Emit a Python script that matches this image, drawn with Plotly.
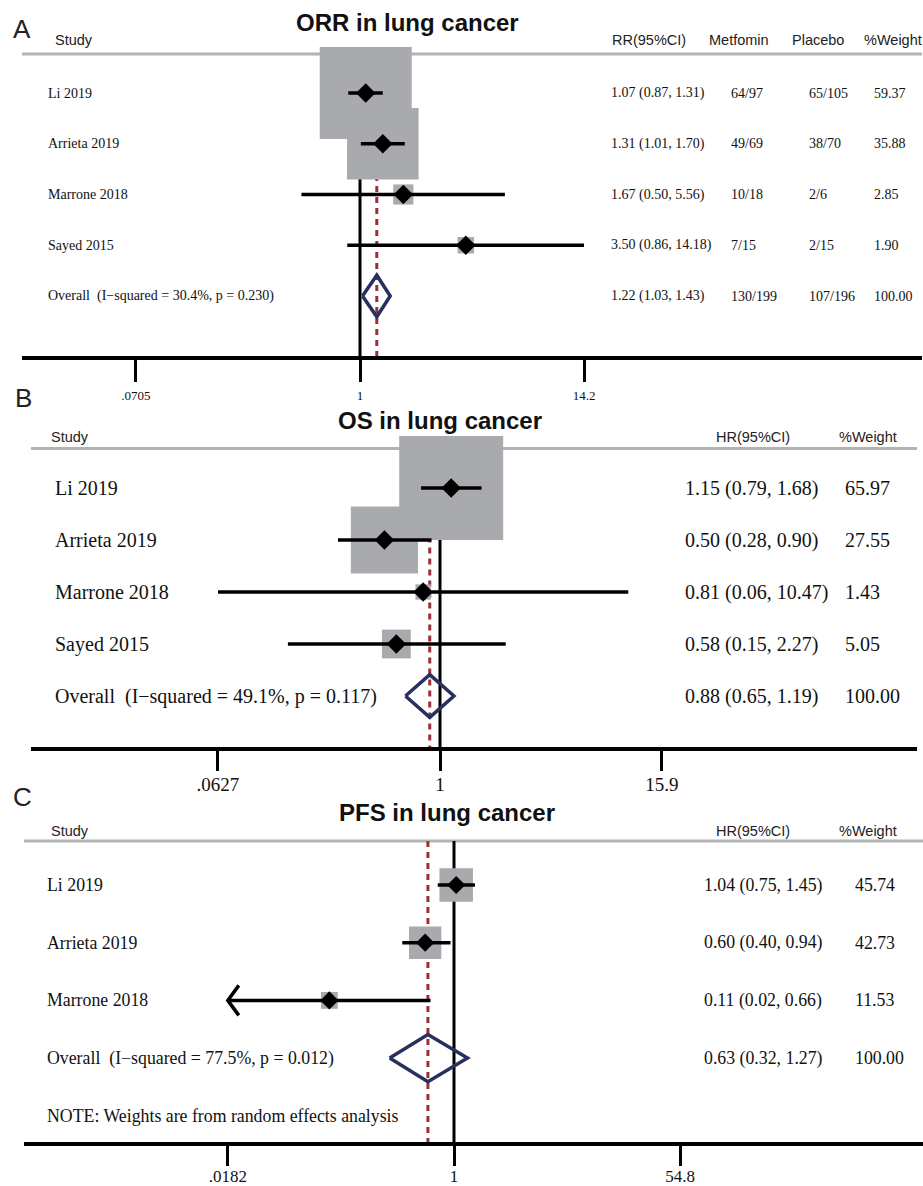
import math
import plotly.graph_objects as go

W, H = 923, 1186

# ---------------- data ----------------
orr_studies = ["Li 2019", "Arrieta 2019", "Marrone 2018", "Sayed 2015"]
orr_est = [1.07, 1.31, 1.67, 3.50]
orr_lo = [0.87, 1.01, 0.50, 0.86]
orr_hi = [1.31, 1.70, 5.56, 14.18]
orr_metformin = ["64/97", "49/69", "10/18", "7/15"]
orr_placebo = ["65/105", "38/70", "2/6", "2/15"]
orr_weight = [59.37, 35.88, 2.85, 1.90]
orr_overall = [1.22, 1.03, 1.43]
orr_overall_counts = ["130/199", "107/196"]
orr_i2, orr_p = 30.4, 0.230
orr_ticks = [0.0705, 1, 14.2]
orr_ticktext = [".0705", "1", "14.2"]

os_studies = ["Li 2019", "Arrieta 2019", "Marrone 2018", "Sayed 2015"]
os_est = [1.15, 0.50, 0.81, 0.58]
os_lo = [0.79, 0.28, 0.0627, 0.15]
os_hi = [1.68, 0.90, 10.47, 2.27]
os_weight = [65.97, 27.55, 1.43, 5.05]
os_overall = [0.88, 0.65, 1.19]
os_i2, os_p = 49.1, 0.117
os_ticks = [0.0627, 1, 15.9]
os_ticktext = [".0627", "1", "15.9"]

pfs_studies = ["Li 2019", "Arrieta 2019", "Marrone 2018"]
pfs_est = [1.04, 0.60, 0.11]
pfs_lo = [0.75, 0.40, 0.018]
pfs_hi = [1.45, 0.94, 0.66]
pfs_weight = [45.74, 42.73, 11.53]
pfs_overall = [0.63, 0.32, 1.27]
pfs_i2, pfs_p = 77.5, 0.012
pfs_ticks = [0.0182, 1, 54.8]
pfs_ticktext = [".0182", "1", "54.8"]

note_text = "NOTE: Weights are from random effects analysis"

# ---------------- styles ----------------
SERIF = "Liberation Serif, Times New Roman, serif"
SANS = "Liberation Sans, Arial, sans-serif"
BOX_GRAY = "#a9aaad"
HEAD_GRAY = "#b3b3b3"
NAVY = "#27305e"
DKRED = "#9a2f38"
TXT = "#111111"

def fx(x):
    return x / W

def fy(y):
    return 1 - y / H

panels = [
    dict(
        letter="A", letter_xy=(22, 29), title="ORR in lung cancer", title_xy=(407, 23),
        head_y=40, line_y=54, row0=93, dy=50.75, axis_y=356, top=36,
        x_left=22, x_right=922, x_one=360, ppd=194.5,
        tick_len=22, tick_font=13, standoff=3, row_font=14, box_k=11.94,
        name_x=46, col_x=[609, 729, 807, 872],
        headers=[("Study", 53), ("RR(95%CI)", 610), ("Metfomin", 707), ("Placebo", 790), ("%Weight", 862)],
        studies=orr_studies, est=orr_est, lo=orr_lo, hi=orr_hi, weight=orr_weight,
        extra=[orr_metformin, orr_placebo], overall=orr_overall,
        overall_extra=orr_overall_counts, i2=orr_i2, p=orr_p,
        ticks=orr_ticks, ticktext=orr_ticktext, note=None, dsize=15,
    ),
    dict(
        letter="B", letter_xy=(23, 398), title="OS in lung cancer", title_xy=(440, 420),
        head_y=437, line_y=448.5, row0=488, dy=52, axis_y=747, top=428,
        x_left=31, x_right=917, x_one=440, ppd=184.6,
        tick_len=20, tick_font=19, standoff=-3, row_font=20, box_k=12.8,
        name_x=53, col_x=[683, 843],
        headers=[("Study", 49), ("HR(95%CI)", 714), ("%Weight", 837)],
        studies=os_studies, est=os_est, lo=os_lo, hi=os_hi, weight=os_weight,
        extra=[], overall=os_overall, overall_extra=[], i2=os_i2, p=os_p,
        ticks=os_ticks, ticktext=os_ticktext, note=None, dsize=15,
    ),
    dict(
        letter="C", letter_xy=(22, 797), title="PFS in lung cancer", title_xy=(447, 812),
        head_y=831, line_y=841, row0=885, dy=57.7, axis_y=1142, top=822,
        x_left=24, x_right=923, x_one=454, ppd=130,
        tick_len=20, tick_font=17, standoff=-4, row_font=17.8, box_k=4.95,
        name_x=45, col_x=[702, 853],
        headers=[("Study", 49), ("HR(95%CI)", 714), ("%Weight", 837)],
        studies=pfs_studies, est=pfs_est, lo=pfs_lo, hi=pfs_hi, weight=pfs_weight,
        extra=[], overall=pfs_overall, overall_extra=[], i2=pfs_i2, p=pfs_p,
        ticks=pfs_ticks, ticktext=pfs_ticktext, note=note_text, dsize=14,
    ),
]

fig = go.Figure()
annotations = []
shapes = []
layout_axes = {}

for i, P in enumerate(panels):
    k = i + 1
    xa = "x" if k == 1 else f"x{k}"
    ya = "y" if k == 1 else f"y{k}"
    xname = "xaxis" if k == 1 else f"xaxis{k}"
    yname = "yaxis" if k == 1 else f"yaxis{k}"

    def row_of(py_, P=P):
        return (py_ - P["row0"]) / P["dy"]

    n = len(P["studies"])
    ov_row = n
    y_head = row_of(P["line_y"])
    y_bot = row_of(P["axis_y"])

    xr = [(P["x_left"] - P["x_one"]) / P["ppd"], (P["x_right"] - P["x_one"]) / P["ppd"]]

    layout_axes[xname] = dict(
        type="log", range=xr, domain=[fx(P["x_left"]), fx(P["x_right"])], anchor=ya,
        showline=True, linecolor="black", linewidth=3.5, ticks="outside",
        ticklen=P["tick_len"], tickwidth=3, tickcolor="black",
        tickvals=P["ticks"], ticktext=P["ticktext"],
        tickfont=dict(family=SERIF, size=P["tick_font"], color=TXT),
        ticklabelstandoff=P["standoff"], automargin=False,
        showgrid=False, zeroline=False, fixedrange=True,
    )
    layout_axes[yname] = dict(
        domain=[fy(P["axis_y"]), fy(P["top"])], range=[y_bot, row_of(P["top"])],
        anchor=xa, visible=False, showgrid=False, zeroline=False, fixedrange=True,
        automargin=False,
    )

    # null line and overall line
    fig.add_trace(go.Scatter(x=[1, 1], y=[y_head, y_bot], mode="lines",
                             line=dict(color="black", width=3), xaxis=xa, yaxis=ya,
                             hoverinfo="skip", showlegend=False))
    ov = P["overall"]
    fig.add_trace(go.Scatter(x=[ov[0], ov[0]], y=[y_head, y_bot], mode="lines",
                             line=dict(color=DKRED, width=3, dash="6px,5px"), xaxis=xa, yaxis=ya,
                             hoverinfo="skip", showlegend=False))

    rows = list(range(n))
    # weight boxes
    fig.add_trace(go.Scatter(
        x=P["est"], y=rows, mode="markers",
        marker=dict(symbol="square", color=BOX_GRAY, opacity=1,
                    size=[P["box_k"] * math.sqrt(w) for w in P["weight"]],
                    line=dict(width=0)),
        xaxis=xa, yaxis=ya, hoverinfo="skip", showlegend=False))

    # CI lines
    xmin = P["ticks"][0]
    xmax = P["ticks"][-1]
    cx, cy = [], []
    ax_, ay_ = [], []
    for r, lo, hi in zip(rows, P["lo"], P["hi"]):
        lo_c = max(lo, xmin)
        hi_c = min(hi, xmax)
        cx += [lo_c, hi_c, None]
        cy += [r, r, None]
        if lo < xmin:
            f = 10 ** (11 / P["ppd"])
            ax_ += [xmin * f, xmin, xmin * f, None]
            ay_ += [r - 0.26, r, r + 0.26, None]
        if hi > xmax:
            f = 10 ** (11 / P["ppd"])
            ax_ += [xmax / f, xmax, xmax / f, None]
            ay_ += [r - 0.26, r, r + 0.26, None]
    fig.add_trace(go.Scatter(x=cx, y=cy, mode="lines", line=dict(color="black", width=3.5),
                             xaxis=xa, yaxis=ya, hoverinfo="skip", showlegend=False))
    if ax_:
        fig.add_trace(go.Scatter(x=ax_, y=ay_, mode="lines", line=dict(color="black", width=3.5),
                                 xaxis=xa, yaxis=ya, hoverinfo="skip", showlegend=False))

    # point estimates
    fig.add_trace(go.Scatter(x=P["est"], y=rows, mode="markers",
                             marker=dict(symbol="diamond", color="black", size=P["dsize"],
                                         line=dict(width=0)),
                             xaxis=xa, yaxis=ya, hoverinfo="skip", showlegend=False))

    # overall diamond
    h = 0.41
    fig.add_trace(go.Scatter(x=[ov[1], ov[0], ov[2], ov[0], ov[1]],
                             y=[ov_row, ov_row - h, ov_row, ov_row + h, ov_row],
                             mode="lines", line=dict(color=NAVY, width=3.5),
                             xaxis=xa, yaxis=ya, hoverinfo="skip", showlegend=False))

    # header line
    shapes.append(dict(type="line", xref="paper", yref="paper",
                       x0=fx(P["x_left"]), x1=fx(P["x_right"]),
                       y0=fy(P["line_y"]), y1=fy(P["line_y"]),
                       line=dict(color=HEAD_GRAY, width=3), layer="below"))

    # letter and title
    annotations.append(dict(text=P["letter"], xref="paper", yref="paper",
                            x=fx(P["letter_xy"][0]), y=fy(P["letter_xy"][1]),
                            xanchor="center", yanchor="middle", showarrow=False,
                            font=dict(family=SANS, size=26, color="#222222")))
    annotations.append(dict(text="<b>" + P["title"] + "</b>", xref="paper", yref="paper",
                            x=fx(P["title_xy"][0]), y=fy(P["title_xy"][1]),
                            xanchor="center", yanchor="middle", showarrow=False,
                            font=dict(family=SANS, size=24, color="#111111")))
    for txt, hx in P["headers"]:
        annotations.append(dict(text=txt, xref="paper", yref="paper",
                                x=fx(hx), y=fy(P["head_y"]), xanchor="left", yanchor="middle",
                                showarrow=False, font=dict(family=SANS, size=14.5, color="#222222")))

    # row texts
    rf = dict(family=SERIF, size=P["row_font"], color=TXT)
    for r in rows:
        cols = [f"{P['est'][r]:.2f} ({P['lo'][r]:.2f}, {P['hi'][r]:.2f})"]
        cols += [e[r] for e in P["extra"]]
        cols += [f"{P['weight'][r]:.2f}"]
        annotations.append(dict(text=P["studies"][r], xref="paper", yref=ya,
                                x=fx(P["name_x"]), y=r, xanchor="left", yanchor="middle",
                                showarrow=False, font=rf))
        for c, cxp in zip(cols, P["col_x"]):
            annotations.append(dict(text=c, xref="paper", yref=ya, x=fx(cxp), y=r,
                                    xanchor="left", yanchor="middle", showarrow=False, font=rf))
    ov_txt = f"Overall\u00a0 (I\u2212squared = {P['i2']:.1f}%, p = {P['p']:.3f})"
    annotations.append(dict(text=ov_txt, xref="paper", yref=ya, x=fx(P["name_x"]), y=ov_row,
                            xanchor="left", yanchor="middle", showarrow=False, font=rf))
    ov_cols = [f"{ov[0]:.2f} ({ov[1]:.2f}, {ov[2]:.2f})"] + list(P["overall_extra"]) + ["100.00"]
    for c, cxp in zip(ov_cols, P["col_x"]):
        annotations.append(dict(text=c, xref="paper", yref=ya, x=fx(cxp), y=ov_row,
                                xanchor="left", yanchor="middle", showarrow=False, font=rf))
    if P["note"]:
        annotations.append(dict(text=P["note"], xref="paper", yref=ya, x=fx(P["name_x"]),
                                y=ov_row + 1, xanchor="left", yanchor="middle",
                                showarrow=False, font=rf))

fig.update_layout(
    width=W, height=H, margin=dict(l=0, r=0, t=0, b=0, pad=0, autoexpand=False),
    paper_bgcolor="white", plot_bgcolor="white",
    showlegend=False, annotations=annotations, shapes=shapes, **layout_axes,
)

fig.write_html(
    "out.html",
    config={"displayModeBar": False},
    post_script="document.body.style.margin='0px';document.body.style.overflow='hidden';",
)
